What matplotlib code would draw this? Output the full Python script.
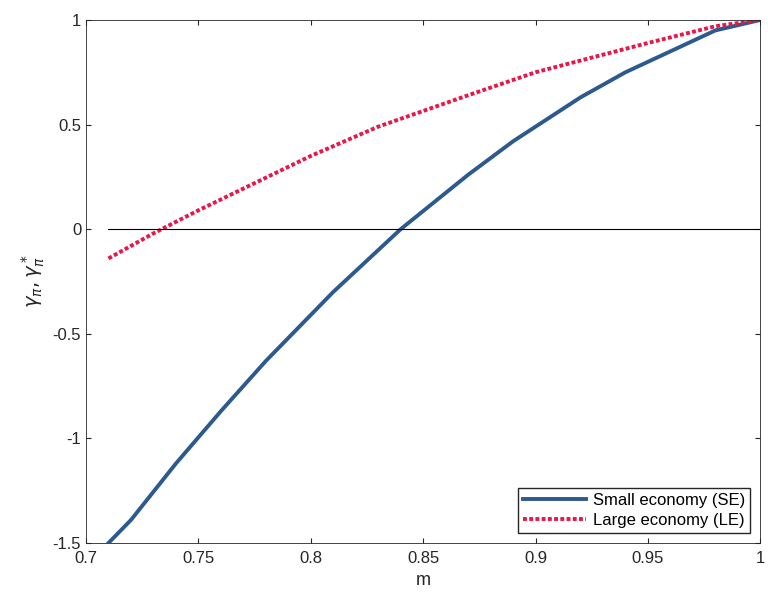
import matplotlib
matplotlib.use("Agg")
import matplotlib.pyplot as plt

m_se = [0.71, 0.72, 0.74, 0.76, 0.78, 0.81, 0.84, 0.87, 0.89, 0.92, 0.94, 0.97, 0.98, 1.0]
g_se = [-1.50, -1.39, -1.12, -0.87, -0.63, -0.30, 0.0, 0.26, 0.42, 0.63, 0.75, 0.90, 0.95, 1.0]
m_le = [0.71, 0.73, 0.75, 0.80, 0.83, 0.87, 0.90, 0.95, 0.98, 1.0]
g_le = [-0.14, -0.02, 0.09, 0.35, 0.49, 0.64, 0.75, 0.89, 0.97, 1.0]

plt.rcParams['font.family'] = ['Liberation Sans', 'DejaVu Sans']
fig = plt.figure(figsize=(7.68, 6.05), dpi=100)
ax = fig.add_axes([0.112, 0.1025, 0.878, 0.8645])
ax.plot(m_se, g_se, color="#2d5a8e", lw=2.8, label="Small economy (SE)")
ax.plot(m_le, g_le, color="#e8174a", lw=2.8, ls=(0, (1, 0.6)), label="Large economy (LE)")
ax.plot([0.71, 1.0], [0, 0], color="black", lw=0.8)
ax.set_xlim(0.7, 1.0)
ax.set_ylim(-1.5, 1.0)
ax.set_xticks([0.7, 0.75, 0.8, 0.85, 0.9, 0.95, 1.0])
ax.set_xticklabels(["0.7", "0.75", "0.8", "0.85", "0.9", "0.95", "1"])
ax.set_yticks([-1.5, -1, -0.5, 0, 0.5, 1])
ax.set_yticklabels(["-1.5", "-1", "-0.5", "0", "0.5", "1"])
ax.tick_params(direction="in", top=True, right=True, labelsize=12, colors="#262626")
ax.tick_params(axis="x", pad=6)
for s in ax.spines.values():
    s.set_color("#262626")
    s.set_linewidth(0.6)
ax.set_xlabel("m", fontsize=13, color="#262626")
ax.set_ylabel(r"$\gamma_\pi,\gamma_\pi^*$", fontsize=14, color="#262626")
ax.legend(loc="lower right", fontsize=12, fancybox=False, edgecolor="#262626",
          framealpha=1, borderpad=0.3, handlelength=3.8, handletextpad=0.4,
          borderaxespad=0.6, labelspacing=0.3)
fig.savefig("out.png", dpi=100, facecolor="white")
